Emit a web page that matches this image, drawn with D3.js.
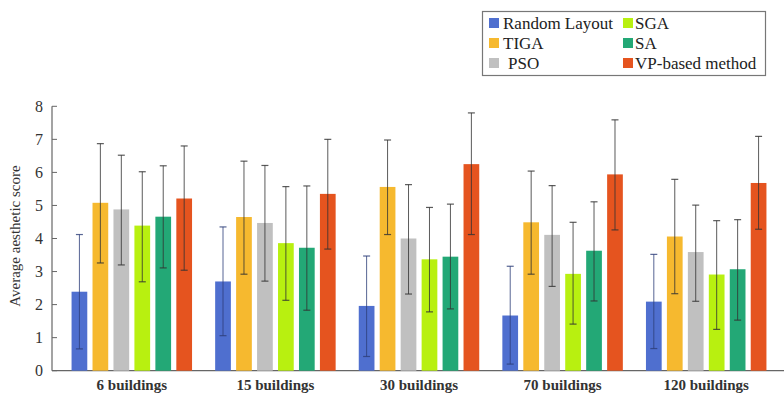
<!DOCTYPE html>
<html>
<head>
<meta charset="utf-8">
<script src="https://cdn.jsdelivr.net/npm/d3@7"></script>
<style>
  body { margin: 0; background: #fff; }
</style>
</head>
<body>
<svg id="chart" width="784" height="397"></svg>
<script>
// chart data
const categories = ['6 buildings', '15 buildings', '30 buildings', '70 buildings', '120 buildings'];
const methods = ['Random Layout', 'TIGA', 'PSO', 'SGA', 'SA', 'VP-based method'];
const colors = ['#4f6fcf', '#f6b92f', '#c0c0c0', '#b8f010', '#23a876', '#e5541f'];

// mean score per method, one value per category
const randomLayout = [2.39, 2.70, 1.96, 1.67, 2.09];
const tiga = [5.08, 4.65, 5.56, 4.49, 4.06];
const pso = [4.88, 4.47, 4.00, 4.11, 3.59];
const sga = [4.39, 3.86, 3.37, 2.93, 2.91];
const sa = [4.66, 3.72, 3.45, 3.63, 3.07];
const vpBased = [5.21, 5.35, 6.25, 5.94, 5.68];

// error bar ends (upper / lower)
const randomLayoutHi = [4.12, 4.35, 3.47, 3.16, 3.52];
const randomLayoutLo = [0.66, 1.06, 0.43, 0.20, 0.67];
const tigaHi = [6.87, 6.34, 6.98, 6.04, 5.79];
const tigaLo = [3.26, 2.92, 4.12, 2.92, 2.33];
const psoHi = [6.52, 6.21, 5.63, 5.60, 5.01];
const psoLo = [3.20, 2.71, 2.32, 2.55, 2.10];
const sgaHi = [6.02, 5.57, 4.94, 4.49, 4.54];
const sgaLo = [2.69, 2.13, 1.78, 1.41, 1.25];
const saHi = [6.20, 5.59, 5.04, 5.11, 4.57];
const saLo = [3.11, 1.83, 1.87, 2.11, 1.53];
const vpBasedHi = [6.80, 7.00, 7.80, 7.59, 7.09];
const vpBasedLo = [3.04, 3.68, 4.12, 4.26, 4.28];

const yTicks = [0, 1, 2, 3, 4, 5, 6, 7, 8];

const seriesVals = [randomLayout, tiga, pso, sga, sa, vpBased];
const seriesHi = [randomLayoutHi, tigaHi, psoHi, sgaHi, saHi, vpBasedHi];
const seriesLo = [randomLayoutLo, tigaLo, psoLo, sgaLo, saLo, vpBasedLo];

const serif = 'Liberation Serif, Times New Roman, serif';

const svg = d3.select('#chart');

const x0 = d3.scaleBand().domain(categories).range([60, 778]).paddingInner(0.088).paddingOuter(0.044);
const x1 = d3.scaleBand().domain(methods).range([0, x0.bandwidth()]).padding(0.25);
const y = d3.scaleLinear().domain([0, 8]).range([370.7, 106.3]);

// axes
const axisColor = '#666';
svg.append('line')
  .attr('x1', 52).attr('x2', 784).attr('y1', y(0)).attr('y2', y(0))
  .attr('stroke', axisColor).attr('stroke-width', 1.2);
svg.append('line')
  .attr('x1', 52).attr('x2', 52).attr('y1', y(0)).attr('y2', y(8))
  .attr('stroke', axisColor).attr('stroke-width', 1.2);

const yAxis = svg.append('g');
yAxis.selectAll('line.tick')
  .data(yTicks)
  .enter().append('line')
  .attr('x1', 52).attr('x2', 57)
  .attr('y1', d => y(d)).attr('y2', d => y(d))
  .attr('stroke', axisColor).attr('stroke-width', 1);
yAxis.selectAll('text')
  .data(yTicks)
  .enter().append('text')
  .attr('x', 43).attr('y', d => y(d))
  .attr('dy', '0.35em')
  .attr('text-anchor', 'end')
  .attr('fill', '#333')
  .style('font-family', serif)
  .style('font-size', '16px')
  .text(d => d);

svg.append('text')
  .attr('transform', 'translate(20,236) rotate(-90)')
  .attr('text-anchor', 'middle')
  .attr('fill', '#333')
  .style('font-family', serif)
  .style('font-size', '15px')
  .text('Average aesthetic score');

// bars
const groups = svg.selectAll('g.group')
  .data(categories)
  .enter().append('g')
  .attr('class', 'group')
  .attr('transform', d => 'translate(' + x0(d) + ',0)');

groups.each(function (cat, ci) {
  const g = d3.select(this);
  methods.forEach((m, mi) => {
    const bx = x1(m);
    const v = seriesVals[mi][ci];
    g.append('rect')
      .attr('x', bx).attr('y', y(v))
      .attr('width', x1.bandwidth()).attr('height', y(0) - y(v))
      .attr('fill', colors[mi]);
  });
  methods.forEach((m, mi) => {
    const cx = x1(m) + x1.bandwidth() / 2;
    const hi = seriesHi[mi][ci];
    const lo = seriesLo[mi][ci];
    const ec = mi === 0 ? '#2e3f7a' : '#333';
    g.append('line')
      .attr('x1', cx).attr('x2', cx).attr('y1', y(hi)).attr('y2', y(lo))
      .attr('stroke', ec).attr('stroke-width', 1).attr('opacity', 0.8);
    [hi, lo].forEach(e => {
      g.append('line')
        .attr('x1', cx - 3.5).attr('x2', cx + 3.5).attr('y1', y(e)).attr('y2', y(e))
        .attr('stroke', ec).attr('stroke-width', 1.2).attr('opacity', 0.8);
    });
  });
});

// category labels
svg.selectAll('text.cat')
  .data(categories)
  .enter().append('text')
  .attr('class', 'cat')
  .attr('x', d => x0(d) + x0.bandwidth() / 2)
  .attr('y', 390)
  .attr('text-anchor', 'middle')
  .attr('fill', '#333')
  .style('font-family', serif)
  .style('font-size', '15px')
  .style('font-weight', 'bold')
  .text(d => d);

// legend
const legend = svg.append('g');
legend.append('rect')
  .attr('x', 482.5).attr('y', 11.5).attr('width', 283).attr('height', 64)
  .attr('fill', '#fff').attr('stroke', '#777').attr('stroke-width', 1.2);

const legendPos = [
  { x: 489, y: 23, tx: 503 },
  { x: 489, y: 43, tx: 503 },
  { x: 489, y: 63, tx: 508 },
  { x: 623, y: 23, tx: 635 },
  { x: 623, y: 43, tx: 635 },
  { x: 623, y: 63, tx: 635 }
];

methods.forEach((m, i) => {
  const p = legendPos[i];
  legend.append('rect')
    .attr('x', p.x).attr('y', p.y - 5).attr('width', 10).attr('height', 10)
    .attr('fill', colors[i]);
  legend.append('text')
    .attr('x', p.tx).attr('y', p.y)
    .attr('dy', '0.35em')
    .attr('fill', '#222')
    .style('font-family', serif)
    .style('font-size', '17px')
    .text(m);
});
</script>
</body>
</html>
